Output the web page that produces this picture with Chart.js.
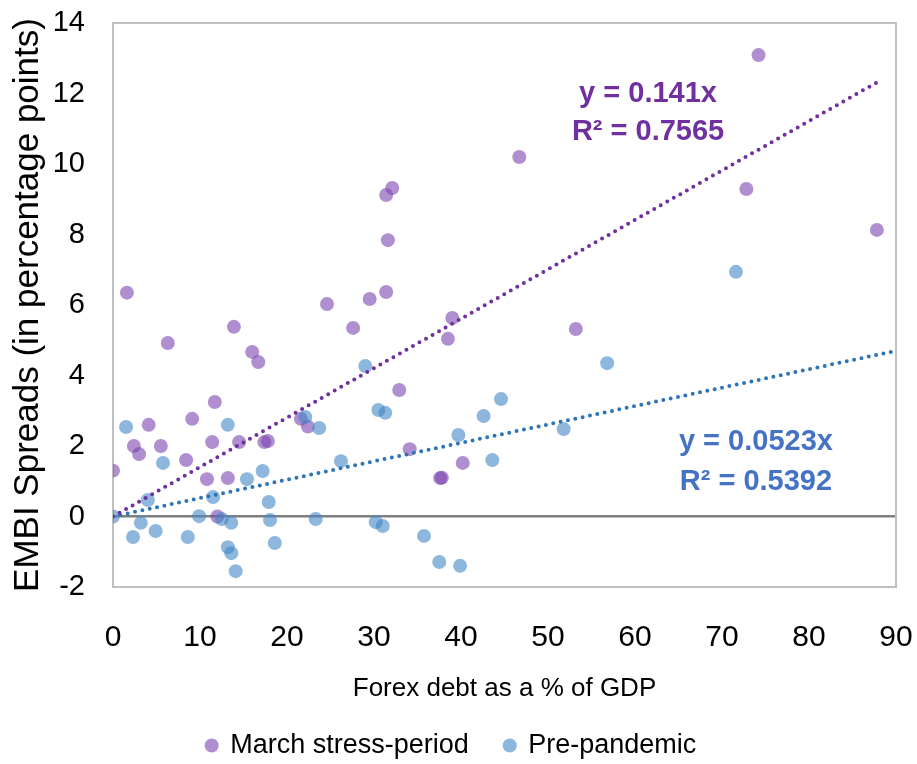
<!DOCTYPE html>
<html><head><meta charset="utf-8">
<script src="https://cdn.jsdelivr.net/npm/chart.js@4.4.1/dist/chart.umd.min.js"></script>
<style>html,body{margin:0;padding:0;background:#fff}#wrap{width:917px;height:764px}</style>
</head><body><div id="wrap"><canvas id="c" width="917" height="764"></canvas></div>
<script>
// ---- data ----
const seriesNames = ['March stress-period', 'Pre-pandemic'];
const marchX = [0.0, 1.6, 2.4, 3.0, 4.1, 5.5, 6.3, 8.4, 9.1, 10.8, 11.4, 11.7, 12.0, 13.2, 13.9, 14.5, 16.0, 16.7, 17.4, 17.8, 21.6, 22.4, 24.6, 27.6, 29.5, 31.4, 31.4, 32.1, 31.6, 32.9, 34.1, 37.6, 37.8, 38.5, 39.0, 40.2, 46.7, 53.2, 72.8, 74.2, 87.8];
const marchY = [1.3, 6.35, 2.0, 1.77, 2.6, 2.0, 4.92, 1.6, 2.77, 1.06, 2.11, 3.25, 0.0, 1.09, 5.38, 2.11, 4.67, 4.38, 2.11, 2.14, 2.77, 2.55, 6.03, 5.35, 6.17, 6.37, 9.12, 9.32, 7.84, 3.59, 1.91, 1.09, 1.1, 5.04, 5.63, 1.52, 10.2, 5.32, 9.29, 13.09, 8.13];
const preX = [0.0, 1.5, 2.3, 3.2, 4.0, 4.9, 5.75, 8.6, 9.9, 11.5, 12.5, 13.2, 13.2, 13.6, 13.6, 14.1, 15.4, 17.2, 17.9, 18.05, 18.6, 22.1, 23.3, 23.7, 26.2, 29.0, 30.2, 30.5, 31.0, 31.3, 35.75, 37.5, 39.7, 39.9, 42.6, 43.6, 44.6, 51.8, 56.8, 71.6];
const preY = [0.0, 2.54, -0.58, -0.18, 0.47, -0.41, 1.52, -0.58, 0.01, 0.55, -0.07, 2.6, -0.87, -0.18, -1.04, -1.55, 1.06, 1.29, 0.41, -0.1, -0.75, 2.82, -0.07, 2.51, 1.57, 4.27, -0.16, 3.02, -0.27, 2.94, -0.55, -1.29, 2.31, -1.4, 2.85, 1.6, 3.33, 2.48, 4.35, 6.94];
const marchTrendX = [0, 87.7];
const marchTrendY = [0, 12.3];
const preTrendX = [0, 90];
const preTrendY = [0, 4.7];
const xTicks = [0, 10, 20, 30, 40, 50, 60, 70, 80, 90];
const yTicks = [-2, 0, 2, 4, 6, 8, 10, 12, 14];
const marchEq = ['y = 0.141x', 'R\u00B2 = 0.7565'];
const preEq = ['y = 0.0523x', 'R\u00B2 = 0.5392'];
const xTitle = 'Forex debt as a % of GDP';
const yTitle = 'EMBI Spreads (in percentage points)';

const pts = (xs, ys) => xs.map((x, i) => ({x, y: ys[i]}));

const FONT = "'Liberation Sans', Arial, sans-serif";

const PURPLE_PT = 'rgba(123,68,177,0.6)';
const BLUE_PT = 'rgba(65,135,197,0.6)';
const PURPLE_LINE = '#7030A0';
const BLUE_LINE = '#2E75B6';

const framePlugin = {
  id: 'frame',
  beforeDatasetsDraw(chart) {
    const {ctx, chartArea: a} = chart;
    ctx.save();
    ctx.strokeStyle = '#BFBFBF';
    ctx.lineWidth = 2;
    ctx.strokeRect(a.left, a.top, a.right - a.left, a.bottom - a.top);
    ctx.restore();
  }
};

const eqPlugin = {
  id: 'eqs',
  afterDatasetsDraw(chart, args, opts) {
    const {ctx} = chart;
    const xs = chart.scales.x, ys = chart.scales.y;
    ctx.save();
    ctx.textAlign = 'center';
    ctx.textBaseline = 'middle';
    opts.items.forEach(it => {
      ctx.font = 'bold ' + it.size + 'px ' + FONT;
      ctx.fillStyle = it.color;
      it.lines.forEach((ln, i) => {
        ctx.fillText(ln, xs.getPixelForValue(it.x), ys.getPixelForValue(it.y[i]));
      });
    });
    ctx.restore();
  }
};

new Chart(document.getElementById('c'), {
  type: 'scatter',
  data: {
    datasets: [
      { label: seriesNames[0], data: pts(marchX, marchY), backgroundColor: PURPLE_PT, borderWidth: 0, pointRadius: 7, order: 3 },
      { label: seriesNames[1], data: pts(preX, preY), backgroundColor: BLUE_PT, borderWidth: 0, pointRadius: 7, order: 2 },
      { type: 'line', label: 'trendM', data: pts(marchTrendX, marchTrendY), borderColor: PURPLE_LINE, borderWidth: 4, borderDash: [0, 7.5], borderCapStyle: 'round', pointRadius: 0, fill: false, order: 1 },
      { type: 'line', label: 'trendP', data: pts(preTrendX, preTrendY), borderColor: BLUE_LINE, borderWidth: 4, borderDash: [0, 7.5], borderCapStyle: 'round', pointRadius: 0, fill: false, order: 1 }
    ]
  },
  options: {
    responsive: false,
    animation: false,
    events: [],
    layout: { padding: { left: 0, right: 14, top: 0, bottom: -5 } },
    scales: {
      x: {
        type: 'linear', min: 0, max: 90,
        afterBuildTicks: s => { s.ticks = xTicks.map(v => ({value: v})); },
        afterFit: s => { s.height = 109; s.paddingRight = 21; s.paddingLeft = 0; },
        ticks: { font: { family: FONT, size: 30 }, color: '#000', padding: 33, maxRotation: 0 },
        grid: { display: false, drawTicks: false },
        border: { display: false },
        title: { display: true, text: xTitle, font: { family: FONT, size: 26 }, color: '#000', padding: { top: 0, bottom: -8.6 } }
      },
      y: {
        type: 'linear', min: -2, max: 14,
        afterBuildTicks: s => { s.ticks = yTicks.map(v => ({value: v})); },
        afterFit: s => { s.width = 113; s.paddingTop = 23; s.paddingBottom = 0; },
        ticks: { font: { family: FONT, size: 29 }, color: '#000', padding: 28 },
        grid: { drawTicks: false, color: c => (c.tick && c.tick.value === 0) ? '#7F7F7F' : 'rgba(0,0,0,0)', lineWidth: 2.5 },
        border: { display: false },
        title: { display: true, text: yTitle, font: { family: FONT, size: 35 }, color: '#000', padding: { top: 7, bottom: 0 } }
      }
    },
    plugins: {
      legend: {
        position: 'bottom',
        labels: {
          font: { family: FONT, size: 27 }, color: '#000',
          usePointStyle: true, pointStyle: 'circle', boxWidth: 10, boxHeight: 10, padding: 36,
          filter: item => item.datasetIndex < 2,
          sort: (a, b) => a.datasetIndex - b.datasetIndex
        }
      },
      tooltip: { enabled: false },
      eqs: {
        items: [
          { lines: marchEq, x: 61.5, y: [12.0, 10.9], color: PURPLE_LINE, size: 29 },
          { lines: preEq, x: 73.9, y: [2.11, 0.98], color: '#4472C4', size: 29 }
        ]
      }
    }
  },
  plugins: [framePlugin, eqPlugin]
});
</script></body></html>
